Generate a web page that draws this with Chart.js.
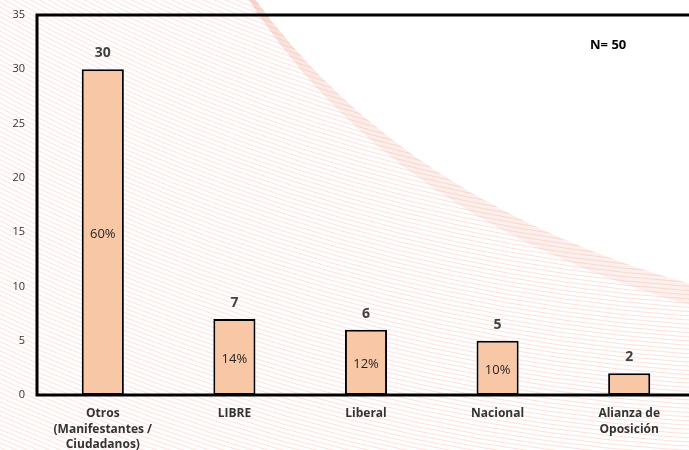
<!DOCTYPE html>
<html>
<head>
<meta charset="utf-8">
<script src="https://cdn.jsdelivr.net/npm/chart.js@4.4.1/dist/chart.umd.min.js"></script>
<style>
  body { margin: 0; overflow: hidden; background: #fff; }
  #wrap { width: 700px; height: 450px; }
</style>
</head>
<body>
<div id="wrap"><canvas id="grafico"></canvas></div>
<script>
// Datos
const categorias = [['Otros', '(Manifestantes /', 'Ciudadanos)'], 'LIBRE', 'Liberal', 'Nacional', ['Alianza de', 'Oposición']];
const conteos = [30, 7, 6, 5, 2];
const porcentajes = [60, 14, 12, 10, null];
const ejeMax = 35;
const ejePaso = 5;
const textoN = 'N= 50';

const fuente = "'Open Sans', 'DejaVu Sans', sans-serif";

// Fondo decorativo: curvas rosadas (solo adorno)
function bordeCurva(ctx, k) {
    ctx.moveTo(245 - 0.3 * k, -15);
    ctx.quadraticCurveTo(400 - 0.8 * k, 210 + 0.9 * k, 720, 292 + 1.2 * k);
}

const fondoCurvas = {
    id: 'fondoCurvas',
    beforeDraw(chart) {
        const ctx = chart.ctx;
        ctx.save();
        ctx.fillStyle = '#ffffff';
        ctx.fillRect(0, 0, chart.width, chart.height);

        // region bajo la curva borde
        ctx.beginPath();
        bordeCurva(ctx, 0);
        ctx.lineTo(720, 480);
        ctx.lineTo(-20, 480);
        ctx.lineTo(-20, -15);
        ctx.closePath();
        ctx.clip();

        ctx.lineWidth = 0.8;
        ctx.strokeStyle = 'rgba(235,140,120,0.32)';
        for (let r = 1480; r < 2040; r += 4.2) {
            ctx.beginPath();
            ctx.arc(800, -1400, r, Math.PI * 0.5, Math.PI * 0.85);
            ctx.stroke();
        }

        // franja densa junto al borde
        ctx.strokeStyle = 'rgba(240,165,145,0.2)';
        for (let k = 0; k < 18; k += 0.8) {
            ctx.beginPath();
            bordeCurva(ctx, k);
            ctx.stroke();
        }
        ctx.restore();
    }
};

// Marco y etiquetas
const marcoEtiquetas = {
    id: 'marcoEtiquetas',
    afterDatasetsDraw(chart) {
        const ctx = chart.ctx;
        const area = chart.chartArea;
        ctx.save();
        ctx.strokeStyle = '#000';
        ctx.lineWidth = 3;
        ctx.strokeRect(area.left, area.top, area.right - area.left, area.bottom - area.top);

        const meta = chart.getDatasetMeta(0);
        ctx.textAlign = 'center';
        ctx.textBaseline = 'middle';
        meta.data.forEach((bar, i) => {
            ctx.fillStyle = '#404040';
            ctx.font = 'bold 14px ' + fuente;
            ctx.fillText(conteos[i], bar.x, bar.y - 16);
            if (porcentajes[i] !== null) {
                ctx.fillStyle = '#262626';
                ctx.font = '13px ' + fuente;
                ctx.fillText(porcentajes[i] + '%', bar.x, (bar.y + bar.base) / 2 + 2);
            }
        });

        ctx.fillStyle = '#000';
        ctx.font = 'bold 13px ' + fuente;
        ctx.textAlign = 'left';
        ctx.fillText(textoN, 590, 45);
        ctx.restore();
    }
};

const ctx = document.getElementById('grafico').getContext('2d');
new Chart(ctx, {
    type: 'bar',
    data: {
        labels: categorias,
        datasets: [{
            data: conteos,
            backgroundColor: '#F8C7A6',
            borderColor: '#000',
            borderWidth: 2,
            borderSkipped: false,
            barPercentage: 0.32,
            categoryPercentage: 1
        }]
    },
    options: {
        responsive: true,
        maintainAspectRatio: false,
        animation: false,
        layout: { padding: { top: 15, right: 5, left: 0, bottom: 0 } },
        plugins: { legend: { display: false }, tooltip: { enabled: false } },
        scales: {
            x: {
                grid: { display: false, drawTicks: false },
                border: { display: false },
                ticks: {
                    color: '#333',
                    padding: 11,
                    maxRotation: 0,
                    autoSkip: false,
                    font: { family: fuente, size: 12, weight: 'bold', lineHeight: 1.3 }
                },
                afterFit(scale) { scale.height = 55; }
            },
            y: {
                min: 0,
                max: ejeMax,
                grid: { display: false, drawTicks: false },
                border: { display: false },
                ticks: {
                    stepSize: ejePaso,
                    color: '#333',
                    padding: 12,
                    font: { family: fuente, size: 11 }
                },
                afterFit(scale) {
                    scale.width = 37;
                    scale.paddingTop = 0;
                    scale.paddingBottom = 0;
                }
            }
        }
    },
    plugins: [fondoCurvas, marcoEtiquetas]
});
</script>
</body>
</html>
